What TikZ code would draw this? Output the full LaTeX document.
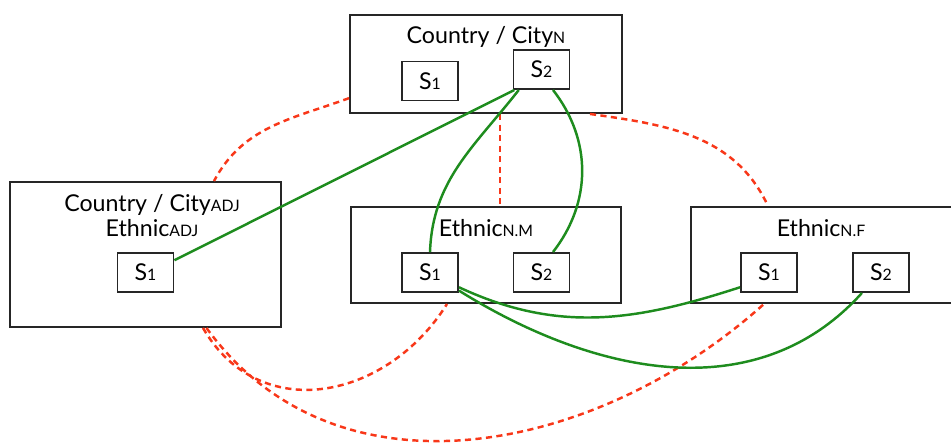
\documentclass[tikz,border=0pt]{standalone}
\usepackage{fontspec}
\setmainfont{Lato}
\usepackage{xcolor}
\usetikzlibrary{positioning}
\definecolor{linkred}{RGB}{248,55,25}
\definecolor{linkgreen}{RGB}{30,140,30}
\newcommand{\smallsub}[1]{{\fontsize{9}{10}\selectfont #1}}

\begin{document}
\begin{tikzpicture}[x=0.02cm,y=-0.02cm,font=\fontsize{13.2}{15}\selectfont,
            bigbox/.style={draw=black!85,line width=1.1pt,rectangle,inner sep=0pt},
            sbox/.style={draw=black!85,line width=1.1pt,rectangle,minimum width=1.12cm,minimum height=0.78cm,inner sep=0pt,fill=white},
            redlink/.style={draw=linkred,line width=1.4pt,dash pattern=on 3.5pt off 2.5pt},
            greenlink/.style={draw=linkgreen,line width=1.4pt}]
            \useasboundingbox (0,0) rectangle (951,443);

            \node[bigbox,minimum width=5.44cm,minimum height=1.96cm] (citybox) at (486,64) {};
            \node (citylabel) at (486,37) {Country / City\smallsub{N}};
            \node[sbox] (cs1) at (430,81) {S\smallsub{1}};
            \node[sbox] (cs2) at (541.5,69.5) {S\smallsub{2}};

            \node[bigbox,minimum width=5.42cm,minimum height=2.9cm] (adjbox) at (145.5,254.5) {};
            \node (adjlabel) at (152,205) {Country / City\smallsub{ADJ}};
            \node (adjlabel2) at (152,228) {Ethnic\smallsub{ADJ}};
            \node[sbox] (as1) at (145.5,272.5) {S\smallsub{1}};

            \node[bigbox,minimum width=5.4cm,minimum height=1.92cm] (malebox) at (486,255) {};
            \node (malelabel) at (486,228) {Ethnic\smallsub{N.M}};
            \node[sbox] (ms1) at (430,272.5) {S\smallsub{1}};
            \node[sbox] (ms2) at (541.5,272.5) {S\smallsub{2}};

            \node[bigbox,minimum width=5.28cm,minimum height=1.92cm] (femalebox) at (823,255) {};
            \node (femalelabel) at (821,228) {Ethnic\smallsub{N.F}};
            \node[sbox] (fs1) at (769,272.5) {S\smallsub{1}};
            \node[sbox] (fs2) at (881,272.5) {S\smallsub{2}};

            \draw[redlink] (citybox.194) to[out=200,in=62] (adjbox.47.5);
            \draw[redlink] ([xshift=0.28cm]citybox.south) -- ([xshift=0.28cm]malebox.north);
            \draw[redlink] ([xshift=2.08cm]citybox.south) to[out=-8,in=115] ([xshift=-1.1cm]femalebox.north);
            \draw[redlink] ([xshift=1.15cm]adjbox.south) to[out=-60,in=238,looseness=1.18] ([xshift=-0.78cm]malebox.south);
            \draw[redlink] ([xshift=1.22cm]adjbox.south) to[out=-54,in=222,looseness=1.02] ([xshift=-1.18cm]femalebox.south);

            \draw[greenlink] (as1.23) -- (cs2.217);
            \draw[greenlink] (ms1.north) to[out=88,in=232] (cs2.222);
            \draw[greenlink] ([xshift=0.23cm]cs2.south) to[bend left=38] ([xshift=0.23cm]ms2.north);
            \draw[greenlink] (ms1.-27) to[out=-25,in=198] (fs1.207);
            \draw[greenlink] (ms1.-32) to[out=-32,in=228] (fs2.227);
        \end{tikzpicture}
\end{document}
